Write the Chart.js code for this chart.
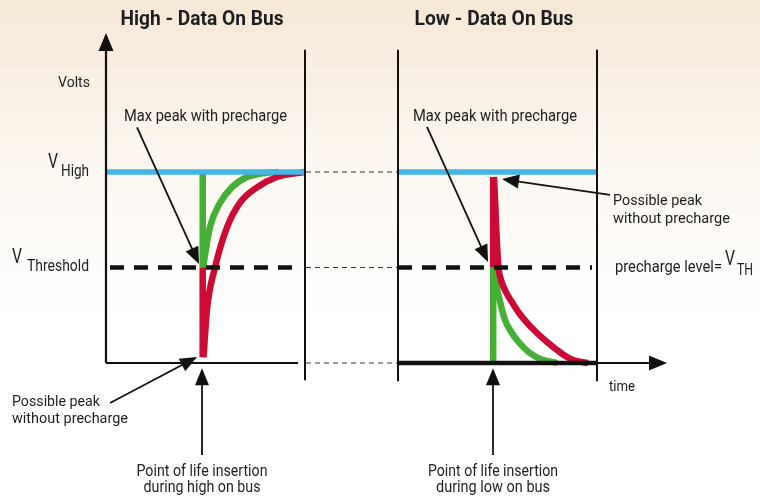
<!DOCTYPE html>
<html>
<head>
<meta charset="utf-8">
<script src="https://cdn.jsdelivr.net/npm/chart.js@4.4.1/dist/chart.umd.min.js"></script>
<style>
html, body { margin: 0; padding: 0; background: #fff; }
#wrap { width: 760px; height: 499px; }
</style>
</head>
<body>
<div id="wrap"><canvas id="busChart"></canvas></div>
<script>
// voltage levels (normalised): low bus, threshold / precharge, high bus
const vLow = 0;
const vThreshold = 0.5;
const vHigh = 1.0;

// time windows of the two panels and the moments of insertion
const highPanel = [0, 19.9];
const lowPanel = [29.2, 49.1];
const insertHigh = 9.67;
const insertLow = 38.72;

// high on bus: green = with precharge, red = without precharge
const highGreenT = [9.7, 10.4, 11.4, 12.6, 14.1, 15.6, 17.2];
const highGreenV = [0.5, 0.712, 0.838, 0.921, 0.974, 0.993, 1.0];
const highRedT = [9.75, 10.1, 10.9, 12.1, 13.4, 15.1, 17.1, 19.9];
const highRedV = [0.03, 0.28, 0.5, 0.71, 0.84, 0.92, 0.974, 1.0];

// low on bus
const lowRedT = [38.8, 38.95, 39.1, 39.25, 39.5, 40.05, 40.7, 41.3, 42.2, 43.1, 44.1, 45.1, 45.9, 46.7, 48.2];
const lowRedV = [0.974, 0.8, 0.62, 0.5, 0.435, 0.366, 0.31, 0.262, 0.205, 0.157, 0.11, 0.068, 0.038, 0.016, 0];
const lowGreenT = [38.78, 38.95, 39.2, 39.9, 40.5, 41.1, 41.8, 42.4, 43.5, 45.1];
const lowGreenV = [0.5, 0.43, 0.366, 0.225, 0.165, 0.12, 0.08, 0.052, 0.02, 0];

// annotation arrows: [tFrom, vFrom, tTo, vTo]
const arrows = [
  [3.1, 1.233, 9.3, 0.518],
  [0.4, -0.209, 9.1, 0.031],
  [9.6, -0.482, 9.6, -0.027],
  [32.1, 1.236, 38.2, 0.529],
  [50.4, 0.880, 39.6, 0.963],
  [38.7, -0.482, 38.7, -0.027]
];

const RED = '#cc0a35';
const GREEN = '#45b035';
const BLUE = '#45b5e6';
const INK = '#111';
const FONT = 'Roboto, "Liberation Sans", sans-serif';

function pts(ts, vs) { return ts.map((t, i) => ({ x: t, y: vs[i] })); }

function seg(t1, v1, t2, v2, color, width, dash) {
  return {
    data: [{ x: t1, y: v1 }, { x: t2, y: v2 }],
    borderColor: color, borderWidth: width, borderDash: dash || [],
    pointRadius: 0, showLine: true, tension: 0
  };
}

function curve(ts, vs, color) {
  return {
    data: pts(ts, vs), borderColor: color, borderWidth: 6.5,
    pointRadius: 0, showLine: true, cubicInterpolationMode: 'monotone'
  };
}

const datasets = [
  // axes and panel frames
  seg(highPanel[0], vLow, highPanel[0], 1.64, INK, 2.2),
  seg(highPanel[0], vLow, 19.2, vLow, INK, 2.2),
  seg(highPanel[1], -0.09, highPanel[1], 1.64, INK, 2),
  seg(lowPanel[0], -0.095, lowPanel[0], 1.64, INK, 2),
  seg(lowPanel[1], -0.095, lowPanel[1], 1.64, INK, 2),
  seg(lowPanel[0], vLow, lowPanel[1], vLow, INK, 4.5),
  seg(lowPanel[1], vLow, 54.4, vLow, INK, 2.2),
  // thin connectors between the panels
  seg(highPanel[1] + 0.1, vHigh, lowPanel[0] - 0.1, vHigh, '#333', 1, [5, 4]),
  seg(highPanel[1] + 0.1, vThreshold, lowPanel[0] - 0.1, vThreshold, '#333', 1, [5, 4]),
  seg(highPanel[1] + 0.1, vLow, lowPanel[0] - 0.1, vLow, '#333', 1, [5, 4]),
  // high level and threshold
  seg(highPanel[0] + 0.1, vHigh, highPanel[1], vHigh, BLUE, 5.5),
  seg(lowPanel[0], vHigh, lowPanel[1], vHigh, BLUE, 5.5),
  seg(highPanel[0] + 0.4, vThreshold, highPanel[1] - 0.3, vThreshold, INK, 4.5, [14, 10]),
  seg(lowPanel[0], vThreshold, lowPanel[1] - 0.5, vThreshold, INK, 4.5, [14, 10]),
  // without precharge
  seg(insertHigh, vThreshold, insertHigh, 0.03, RED, 6.5),
  curve(highRedT, highRedV, RED),
  seg(insertLow, 0.974, insertLow, vThreshold, RED, 6.5),
  curve(lowRedT, lowRedV, RED),
  // with precharge
  seg(insertHigh, vHigh, insertHigh, vThreshold, GREEN, 6.5),
  curve(highGreenT, highGreenV, GREEN),
  seg(insertLow, vThreshold, insertLow, vLow, GREEN, 6.5),
  curve(lowGreenT, lowGreenV, GREEN)
];

// text labels: [text, t, v, align, size, weight, width in px]
const labels = [
  ['High - Data On Bus', 9.6, 1.772, 'center', 20, 'bold', 163],
  ['Low - Data On Bus', 38.8, 1.772, 'center', 20, 'bold', 159],
  ['Volts', -4.8, 1.445, 'left', 15.5, 'normal', 32],
  ['Max peak with precharge', 1.8, 1.267, 'left', 16.5, 'normal', 163],
  ['Max peak with precharge', 30.7, 1.267, 'left', 16.5, 'normal', 164],
  ['V', -5.8, 1.021, 'left', 21, 'normal', 10],
  ['High', -4.5, 0.979, 'left', 16, 'normal', 28],
  ['V', -9.4, 0.524, 'left', 21, 'normal', 10],
  ['Threshold', -7.9, 0.482, 'left', 16, 'normal', 62],
  ['precharge level=', 50.9, 0.476, 'left', 16, 'normal', 107],
  ['V', 61.9, 0.513, 'left', 21, 'normal', 10],
  ['TH', 63.1, 0.461, 'left', 16, 'normal', 16],
  ['time', 50.3, -0.147, 'left', 15.5, 'normal', 26],
  ['Possible peak', -9.4, -0.225, 'left', 15.5, 'normal', 88],
  ['without precharge', -9.4, -0.314, 'left', 15.5, 'normal', 116],
  ['Possible peak', 50.7, 0.827, 'left', 15.5, 'normal', 89],
  ['without precharge', 50.7, 0.733, 'left', 15.5, 'normal', 117],
  ['Point of life insertion', 9.6, -0.591, 'center', 16, 'normal', 131],
  ['during high on bus', 9.6, -0.675, 'center', 16, 'normal', 117],
  ['Point of life insertion', 38.7, -0.591, 'center', 16, 'normal', 130],
  ['during low on bus', 38.7, -0.675, 'center', 16, 'normal', 114]
];

function head(ctx, x1, y1, x2, y2, len, half) {
  const a = Math.atan2(y2 - y1, x2 - x1);
  ctx.beginPath();
  ctx.moveTo(x2, y2);
  ctx.lineTo(x2 - len * Math.cos(a) + half * Math.sin(a), y2 - len * Math.sin(a) - half * Math.cos(a));
  ctx.lineTo(x2 - len * Math.cos(a) - half * Math.sin(a), y2 - len * Math.sin(a) + half * Math.cos(a));
  ctx.closePath();
  ctx.fill();
}

const backdrop = {
  id: 'backdrop',
  beforeDraw(chart) {
    const { ctx, width, height } = chart;
    const g = ctx.createLinearGradient(0, 0, 0, height);
    g.addColorStop(0, '#f6e8d6');
    g.addColorStop(0.35, '#fcf8f2');
    g.addColorStop(0.65, '#ffffff');
    ctx.save();
    ctx.fillStyle = g;
    ctx.fillRect(0, 0, width, height);
    ctx.restore();
  }
};

const annotate = {
  id: 'annotate',
  afterDatasetsDraw(chart) {
    const { ctx } = chart;
    const sx = chart.scales.x, sy = chart.scales.y;
    ctx.save();
    ctx.fillStyle = INK;
    ctx.strokeStyle = INK;
    // axis arrow heads
    head(ctx, sx.getPixelForValue(0), sy.getPixelForValue(1.5), sx.getPixelForValue(0), sy.getPixelForValue(1.728), 18, 7.5);
    head(ctx, sx.getPixelForValue(52), sy.getPixelForValue(0), sx.getPixelForValue(56.1), sy.getPixelForValue(0), 18, 7.5);
    // callout arrows
    ctx.lineWidth = 1.8;
    arrows.forEach(([t1, v1, t2, v2]) => {
      const x1 = sx.getPixelForValue(t1), y1 = sy.getPixelForValue(v1);
      const x2 = sx.getPixelForValue(t2), y2 = sy.getPixelForValue(v2);
      const a = Math.atan2(y2 - y1, x2 - x1);
      ctx.beginPath();
      ctx.moveTo(x1, y1);
      ctx.lineTo(x2 - 10 * Math.cos(a), y2 - 10 * Math.sin(a));
      ctx.stroke();
      head(ctx, x1, y1, x2, y2, 17, 7);
    });
    // text, squeezed to the condensed widths of the original
    ctx.fillStyle = '#1e1e1e';
    ctx.textBaseline = 'alphabetic';
    labels.forEach(([text, t, v, align, size, weight, w]) => {
      ctx.font = weight + ' ' + size + 'px ' + FONT;
      ctx.textAlign = align;
      const k = Math.min(1.15, w / ctx.measureText(text).width);
      ctx.save();
      ctx.translate(sx.getPixelForValue(t), sy.getPixelForValue(v));
      ctx.scale(k, 1);
      ctx.fillText(text, 0, 0);
      ctx.restore();
    });
    ctx.restore();
  }
};

new Chart(document.getElementById('busChart'), {
  type: 'scatter',
  data: { datasets: datasets },
  options: {
    responsive: true,
    maintainAspectRatio: false,
    animation: false,
    layout: { padding: 0 },
    plugins: { legend: { display: false }, tooltip: { enabled: false } },
    scales: {
      x: { type: 'linear', display: false, min: -10.6, max: 65.4 },
      y: { type: 'linear', display: false, min: -0.712, max: 1.9005 }
    }
  },
  plugins: [backdrop, annotate]
});
</script>
</body>
</html>
